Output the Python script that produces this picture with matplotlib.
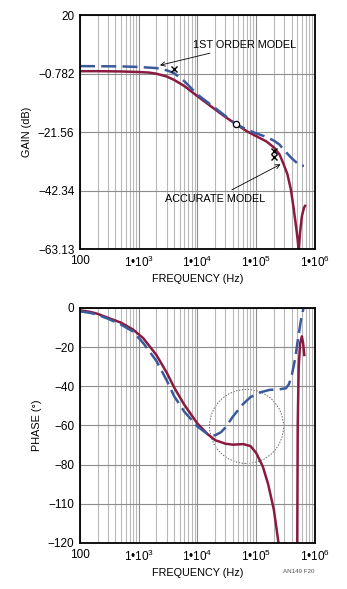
import numpy as np
import matplotlib
matplotlib.use("Agg")
import matplotlib.pyplot as plt
from matplotlib.patches import Ellipse
from matplotlib.ticker import FixedLocator, LogLocator, NullFormatter

plt.rcParams['font.family'] = ['Liberation Sans', 'DejaVu Sans']
plt.rcParams['mathtext.fontset'] = 'custom'
plt.rcParams['mathtext.rm'] = 'Liberation Sans'

RED = '#8a1a40'
BLUE = '#3b5a9c'

# --- gain plot data (Hz, dB) ---
gain_acc_f = [100, 200, 500, 1000, 1500, 2000, 3000, 4000, 6000, 1e4, 2e4, 3e4, 4.5e4, 7e4, 1e5,
              1.5e5, 2e5, 2.5e5, 2.9e5, 3.4e5, 3.9e5, 4.3e5, 4.7e5, 5.1e5, 5.3e5, 5.6e5, 6.0e5, 6.5e5, 6.8e5]
gain_acc = [0.1, 0.1, 0.0, -0.2, -0.4, -0.8, -1.8, -3.0, -5.2, -8.8, -13.5, -16.2, -18.7, -21.3, -23.0,
            -24.9, -27.0, -29.5, -32.7, -36.5, -42.0, -48.0, -54.0, -60.0, -64.0, -57.0, -51.5, -48.5, -47.8]

gain_1st_f = [100, 500, 1000, 2000, 3000, 4000, 6000, 1e4, 2e4, 4.5e4, 7e4, 1e5, 1.5e5, 2e5, 2.5e5,
              3e5, 4e5, 5e5, 6e5, 6.5e5]
gain_1st = [1.9, 1.8, 1.6, 1.2, 0.4, -0.6, -3.5, -8.2, -13.0, -18.7, -20.7, -22.0, -23.3, -24.6, -26.0,
            -28.0, -30.8, -32.6, -33.6, -33.5]

# --- phase plot data (Hz, deg) ---
phase_1st_f = [100, 150, 200, 300, 500, 800, 1200, 2000, 3000, 4000, 6000, 1e4, 1.5e4, 2e4, 2.5e4,
               3e4, 4e4, 6e4, 8e4, 1.2e5, 1.7e5, 2.5e5, 3.2e5, 3.6e5, 4e5, 4.6e5, 5.2e5, 5.8e5, 6.4e5]
phase_1st = [-1.7, -2.5, -3.5, -5.5, -8.5, -12, -18, -27, -37, -45, -53, -60.5, -64.5, -65, -63.5,
             -61, -55.5, -49, -45.5, -43, -41.8, -41.5, -41, -39, -35, -26, -15, -6, 0]

phase_acc_f = [100, 150, 200, 300, 500, 800, 1200, 2000, 3000, 4000, 6000, 1e4, 1.5e4, 2e4, 3e4,
               4e4, 6e4, 8e4, 1e5, 1.3e5, 1.6e5, 2e5, 2.4e5, 2.6e5,
               5.0e5, 5.1e5, 5.3e5, 5.6e5, 6.0e5, 6.3e5, 6.6e5]
phase_acc = [-1.2, -2, -3, -5, -7.5, -11, -15.5, -24, -33, -40.5, -49.5, -59, -64.5, -67.5, -69.3,
             -69.8, -69.5, -70.5, -74, -81, -90, -103, -120, np.nan,
             -125, -60, -30, -18, -14.5, -18, -24]

gain_ticks = [20, -0.782, -21.56, -42.34, -63.13]
gain_labels = ['20', '−0.782', '−21.56', '−42.34', '−63.13']
phase_ticks = [0, -20, -40, -60, -80, -100, -120]
phase_labels = ['0', '−20', '−40', '−60', '−80', '−110', '−120']
freq_ticks = [100, 1e3, 1e4, 1e5, 1e6]
freq_labels = ['100', r'1•10$^3$', r'1•10$^4$', r'1•10$^5$', r'1•10$^6$']

fig = plt.figure(figsize=(3.47, 5.89), dpi=100)
ax1 = fig.add_axes([0.2305, 0.5772, 0.677, 0.397])
ax2 = fig.add_axes([0.2305, 0.0781, 0.677, 0.399])


def style(ax, yticks, ylabels, ylabel):
    ax.set_xscale('log')
    ax.set_xlim(100, 1e6)
    ax.set_xticks(freq_ticks)
    ax.set_xticklabels(freq_labels)
    ax.xaxis.set_minor_locator(LogLocator(base=10, subs=np.arange(2, 10)))
    ax.xaxis.set_minor_formatter(NullFormatter())
    ax.yaxis.set_major_locator(FixedLocator(yticks))
    ax.set_yticklabels(ylabels)
    ax.grid(True, which='major', color='#8c8c8c', lw=0.8)
    ax.grid(True, which='minor', axis='x', color='#b8b8b8', lw=0.8)
    ax.tick_params(which='both', length=0, labelsize=8.5, pad=4)
    for s in ax.spines.values():
        s.set_linewidth(1.3)
    ax.set_xlabel('FREQUENCY (Hz)', fontsize=7.8, labelpad=3)
    ax.set_ylabel(ylabel, fontsize=7.8, labelpad=4)


# gain
ax1.plot(gain_acc_f, gain_acc, color=RED, lw=1.8)
ax1.plot(gain_1st_f, gain_1st, color=BLUE, lw=1.8, dashes=(6, 2.5))
ax1.set_ylim(-63.13, 20)
style(ax1, gain_ticks, gain_labels, 'GAIN (dB)')
ax1.plot([4e3], [0.8], marker='x', color='black', ms=5, mew=1)
ax1.plot([2e5, 2e5], [-28.3, -30.3], ls='none', marker='x', color='black', ms=5, mew=1)
ax1.plot([4.6e4], [-18.7], marker='o', mfc='white', mec='black', ms=4.5, mew=0.9)
ax1.annotate('1ST ORDER MODEL', xy=(2.3e3, 2.2), xytext=(8.5e3, 9.5), fontsize=7.8,
             ha='left', va='center',
             arrowprops=dict(arrowstyle='->', color='black', lw=0.6, shrinkA=2, shrinkB=0))
ax1.annotate('ACCURATE MODEL', xy=(2.6e5, -33.0), xytext=(1.4e5, -45.3), fontsize=7.8,
             ha='right', va='center',
             arrowprops=dict(arrowstyle='->', color='black', lw=0.6, shrinkA=2, shrinkB=0))

# phase
ax2.plot(phase_acc_f, phase_acc, color=RED, lw=1.8)
ax2.plot(phase_1st_f, phase_1st, color=BLUE, lw=1.8, dashes=(6, 2.5))
ax2.set_ylim(-120, 0)
style(ax2, phase_ticks, phase_labels, 'PHASE (°)')
ax2.add_patch(Ellipse((0.709, 0.496), 0.315, 0.315, transform=ax2.transAxes, fill=False,
                      ls=(0, (1.5, 1.5)), lw=0.7, color='#666666'))

fig.text(0.905, 0.027, 'AN149 F20', fontsize=4.5, color='#555555', ha='right')

fig.savefig('out.png', dpi=100)
